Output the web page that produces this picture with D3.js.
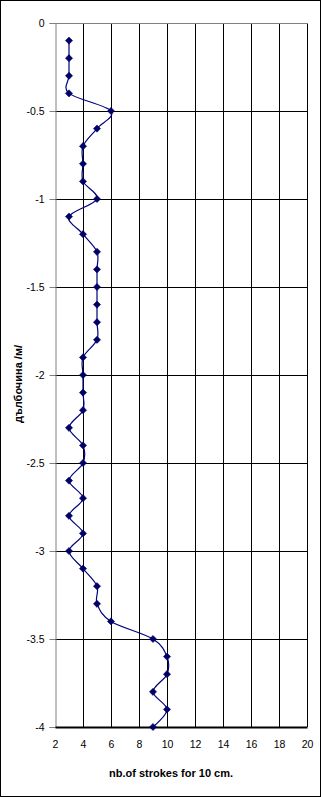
<!DOCTYPE html>
<html><head><meta charset="utf-8">
<script src="https://cdn.jsdelivr.net/npm/d3@7"></script>
<style>
html,body{margin:0;padding:0;background:#fff;}
svg{display:block;}
text{font-family:Arial,"Liberation Sans",sans-serif;}
</style></head>
<body>
<script>
const depths = [-0.1,-0.2,-0.3,-0.4,-0.5,-0.6,-0.7,-0.8,-0.9,-1.0,-1.1,-1.2,-1.3,-1.4,-1.5,-1.6,-1.7,-1.8,-1.9,-2.0,-2.1,-2.2,-2.3,-2.4,-2.5,-2.6,-2.7,-2.8,-2.9,-3.0,-3.1,-3.2,-3.3,-3.4,-3.5,-3.6,-3.7,-3.8,-3.9,-4.0];
const strokes = [3,3,3,3,6,5,4,4,4,5,3,4,5,5,5,5,5,5,4,4,4,4,3,4,4,3,4,3,4,3,4,5,5,6,9,10,10,9,10,9];
const xTicks = [2,4,6,8,10,12,14,16,18,20];
const yTicks = [0,-0.5,-1,-1.5,-2,-2.5,-3,-3.5,-4];
const xTitle = "nb.of strokes for 10 cm.";
const yTitle = "дълбочина /м/";

const W = 321, H = 797;
const L = 55, R = 307, T = 23, B = 727;
const svg = d3.select("body").append("svg").attr("width", W).attr("height", H);
svg.append("rect").attr("x",0.5).attr("y",0.5).attr("width",W-1).attr("height",H-1)
  .attr("fill","#fff").attr("stroke","#000").attr("stroke-width",1);

const x = d3.scaleLinear().domain([2,20]).range([L,R]);
const y = d3.scaleLinear().domain([0,-4]).range([T,B]);

// gridlines
const g = svg.append("g");
g.selectAll("line.vg").data(xTicks.filter(d=>d>2)).enter().append("line")
  .attr("x1",d=>Math.round(x(d))+0.5).attr("x2",d=>Math.round(x(d))+0.5)
  .attr("y1",T).attr("y2",B).attr("stroke","#000").attr("stroke-width",1);
g.selectAll("line.hg").data(yTicks.filter(d=>d<0 && d>-4)).enter().append("line")
  .attr("x1",L).attr("x2",R).attr("y1",d=>Math.round(y(d))+0.5).attr("y2",d=>Math.round(y(d))+0.5)
  .attr("stroke","#000").attr("stroke-width",1);
// top border gray
g.append("line").attr("x1",L).attr("x2",R+1).attr("y1",T+0.5).attr("y2",T+0.5).attr("stroke","#808080");
// left axis gray
const yAxis = d3.axisLeft(y).tickValues(yTicks).tickSize(6).tickFormat(d=>d===0?"0":String(d));
const ya = svg.append("g").attr("transform",`translate(${L+0.5},0)`).call(yAxis);
ya.select(".domain").attr("stroke","#808080");
ya.selectAll(".tick line").attr("stroke","#808080");
ya.selectAll(".tick text").attr("font-size",10.5).attr("fill","#000").attr("x",-11)
  .attr("font-family","Arial, 'Liberation Sans', sans-serif");
// bottom axis black
const xAxis = d3.axisBottom(x).tickValues(xTicks).tickSize(0).tickPadding(14);
const xa = svg.append("g").attr("transform",`translate(0,${B})`).call(xAxis);
xa.select(".domain").attr("stroke","#000").attr("stroke-width",2);
xa.selectAll(".tick text").attr("font-size",10.5).attr("fill","#000")
  .attr("font-family","Arial, 'Liberation Sans', sans-serif");

// titles
svg.append("text").attr("x",171).attr("y",777).attr("text-anchor","middle")
  .attr("font-size",11).attr("font-weight","bold").text(xTitle);
svg.append("text").attr("transform","translate(22,384) rotate(-90)").attr("text-anchor","middle")
  .attr("font-size",11).attr("font-weight","bold").text(yTitle);

// line
const data = depths.map((d,i)=>({d, v: strokes[i]}));
const line = d3.line().x(p=>x(p.v)).y(p=>y(p.d)).curve(d3.curveCatmullRom.alpha(0));
svg.append("path").datum(data).attr("d",line).attr("fill","none")
  .attr("stroke","#000080").attr("stroke-width",1.2);
svg.selectAll("path.mk").data(data).enter().append("path")
  .attr("d", d3.symbol().type(d3.symbolSquare).size(26))
  .attr("transform",p=>`translate(${x(p.v)},${y(p.d)}) rotate(45)`)
  .attr("fill","#000066").attr("stroke","#000066").attr("stroke-width",0.5);
</script>
</body></html>
